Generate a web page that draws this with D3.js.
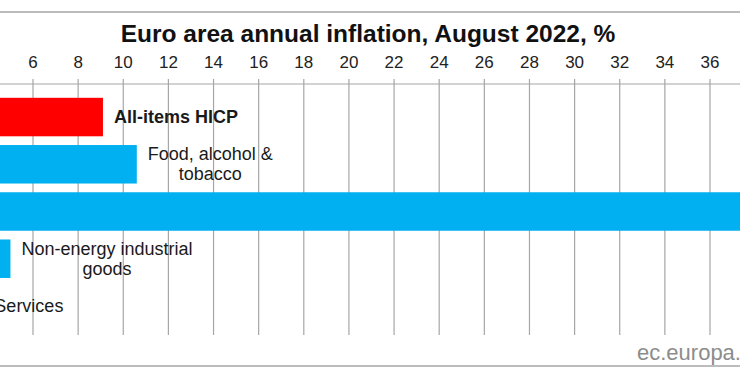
<!DOCTYPE html>
<html lang="en">
<head>
  <meta charset="UTF-8" />
  <title>Euro area annual inflation, August 2022</title>
  <script src="https://d3js.org/d3.v7.min.js"></script>
  <style>
    body { margin: 0; background: #fff; }
    svg { display: block; font-family: "Liberation Sans", Arial, sans-serif; }
    .grid line { stroke: #a6a6a6; stroke-width: 1.2; }
    .frame { stroke: #a6a6a6; stroke-width: 1.5; }
  </style>
</head>
<body>
  <svg width="740" height="389"></svg>
  <script>
    // chart data
    const categories = ["All-items HICP", "Food, alcohol & tobacco", "Energy", "Non-energy industrial goods", "Services"];
    const labelLines = [["All-items HICP"], ["Food, alcohol &", "tobacco"], ["Energy"], ["Non-energy industrial", "goods"], ["Services"]];
    const values = [9.1, 10.6, 38.3, 5.0, 3.8];
    const barColors = ["#ff0000", "#00b0f0", "#00b0f0", "#00b0f0", "#00b0f0"];
    const tickValues = d3.range(0, 40, 2);

    const width = 740, height = 389;
    const svg = d3.select("svg");

    // the picture is a crop, so the scale runs past both edges
    const x = d3.scaleLinear().domain([6, 36]).range([33, 710]);
    const y = d3.scaleBand().domain(categories).range([86, 337]).paddingInner(0.185).paddingOuter(0.25);

    const axisY = 84, gridBottom = 335;

    // frame lines top and bottom
    svg.append("line").attr("class", "frame").attr("x1", 0).attr("x2", width).attr("y1", 12).attr("y2", 12);
    svg.append("line").attr("class", "frame").attr("x1", 0).attr("x2", width).attr("y1", 366).attr("y2", 366);

    svg.append("text")
      .attr("x", 368).attr("y", 42)
      .attr("text-anchor", "middle")
      .attr("font-size", 24.5).attr("font-weight", "bold").attr("fill", "#111")
      .text("Euro area annual inflation, August 2022, %");

    const visibleTicks = tickValues.filter(t => x(t) > 0 && x(t) < width);

    const grid = svg.append("g").attr("class", "grid");
    grid.selectAll("line.v")
      .data(visibleTicks)
      .join("line")
      .attr("class", "v")
      .attr("x1", d => x(d)).attr("x2", d => x(d))
      .attr("y1", axisY - 5).attr("y2", gridBottom);
    grid.append("line").attr("x1", 0).attr("x2", width).attr("y1", axisY).attr("y2", axisY);

    svg.append("g").selectAll("text")
      .data(visibleTicks)
      .join("text")
      .attr("x", d => x(d)).attr("y", 68)
      .attr("text-anchor", "middle")
      .attr("font-size", 17).attr("fill", "#222")
      .text(d => d);

    svg.append("g").selectAll("rect")
      .data(values)
      .join("rect")
      .attr("x", x(0))
      .attr("y", (d, i) => y(categories[i]))
      .attr("width", d => x(d) - x(0))
      .attr("height", y.bandwidth())
      .attr("fill", (d, i) => barColors[i]);

    // category labels just past the end of each bar, lines centred in their box
    values.forEach((v, i) => {
      const left = x(v) + 11;
      if (left > width) return;
      const lines = labelLines[i];
      const cy = y(categories[i]) + y.bandwidth() / 2;
      const lh = 20;
      const t = svg.append("text")
        .attr("font-size", 18)
        .attr("font-weight", i === 0 ? "bold" : "normal")
        .attr("fill", "#1a1a1a");
      const spans = lines.map((line, k) => t.append("tspan")
        .attr("y", cy + (k - (lines.length - 1) / 2) * lh + 6)
        .text(line));
      const widths = spans.map(s => s.node().getComputedTextLength());
      const boxW = d3.max(widths);
      spans.forEach((s, k) => s.attr("x", left + (boxW - widths[k]) / 2));
    });

    svg.append("text")
      .attr("x", 637).attr("y", 360)
      .attr("font-size", 22).attr("fill", "#8c8c8c")
      .text("ec.europa.eu");
  </script>
</body>
</html>
